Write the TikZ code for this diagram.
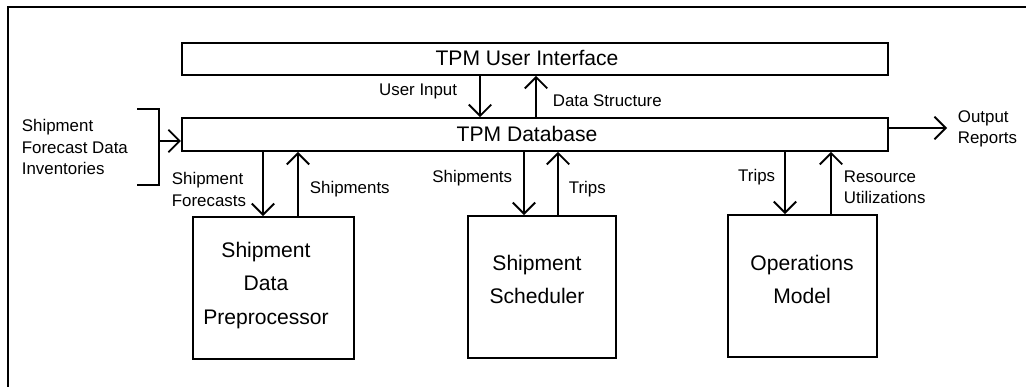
\documentclass[tikz,border=0pt]{standalone}
\usepackage{fontspec}
\setmainfont{Liberation Sans}
\usetikzlibrary{arrows.meta}
\begin{document}
\begin{tikzpicture}[x=0.025cm,y=-0.025cm, line width=1.3pt,
 arr/.style={-{Straight Barb[length=8pt,width=16pt,line width=1.3pt]}},
 box/.style={draw, rectangle, inner sep=0pt},
 big/.style={font=\fontsize{15}{23.5}\selectfont, inner sep=0pt, align=center},
 lbl/.style={font=\fontsize{12}{15}\selectfont, inner sep=0pt, align=left},
 lblr/.style={font=\fontsize{12}{15}\selectfont, inner sep=0pt, align=right},
]
\useasboundingbox (0,0) rectangle (1026,387);
% frame (only top and left edges visible)
\draw (8,387) -- (8,7) -- (1026,7);
% boxes
\node[box, minimum width=17.65cm, minimum height=0.8cm] (ui) at (535,59) {};
\node[box, minimum width=17.65cm, minimum height=0.825cm] (db) at (535,134.5) {};
\node[box, minimum width=4.025cm, minimum height=3.55cm] (pre) at (273.5,288) {};
\node[box, minimum width=3.7cm, minimum height=3.55cm] (sch) at (542,287) {};
\node[box, minimum width=3.725cm, minimum height=3.55cm] (ops) at (802.5,286) {};
% titles
\node[big] (uit) at (527,58) {TPM User Interface};
\node[big] (dbt) at (527,134) {TPM Database};
\node[big] (pret) at (266,285.5) {Shipment\\Data\\Preprocessor};
\node[big] (scht) at (537,279.5) {Shipment\\Scheduler};
\node[big] (opst) at (802,279.5) {Operations\\Model};
% input bracket
\node[lbl, anchor=west] (inp) at (21,147) {Shipment\\Forecast Data\\Inventories};
\draw (137,109) -- (159,109) -- (159,185) -- (137,185);
\coordinate (br) at (159,141);
\draw[arr] (br) -- (db.west |- br);
% output
\coordinate (out) at (947,128);
\draw[arr] (db.east |- out) -- (out);
\node[lbl, anchor=west] (outt) at (957,129) {Output\\Reports};
% UI <-> DB
\draw[arr] (ui.south -| 480,0) -- (db.north -| 480,0);
\draw[arr] (db.north -| 536,0) -- (ui.south -| 536,0);
\node[lblr, anchor=east] (uin) at (458,91) {User Input};
\node[lbl, anchor=west] (ds) at (552,101) {Data Structure};
% DB <-> Preprocessor
\draw[arr] (db.south -| 263,0) -- (pre.north -| 263,0);
\draw[arr] (pre.north -| 298,0) -- (db.south -| 298,0);
\node[lbl, anchor=west] (sf) at (171,189.5) {Shipment\\Forecasts};
\node[lbl, anchor=west] (sh1) at (309,189) {Shipments};
% DB <-> Scheduler
\draw[arr] (db.south -| 524,0) -- (sch.north -| 524,0);
\draw[arr] (sch.north -| 558,0) -- (db.south -| 558,0);
\node[lblr, anchor=east] (sh2) at (513,178) {Shipments};
\node[lbl, anchor=west] (tr1) at (568,189) {Trips};
% DB <-> Operations
\draw[arr] (db.south -| 785,0) -- (ops.north -| 785,0);
\draw[arr] (ops.north -| 831,0) -- (db.south -| 831,0);
\node[lblr, anchor=east] (tr2) at (776,177) {Trips};
\node[lbl, anchor=west] (ru) at (843,187.5) {Resource\\Utilizations};
\end{tikzpicture}
\end{document}
